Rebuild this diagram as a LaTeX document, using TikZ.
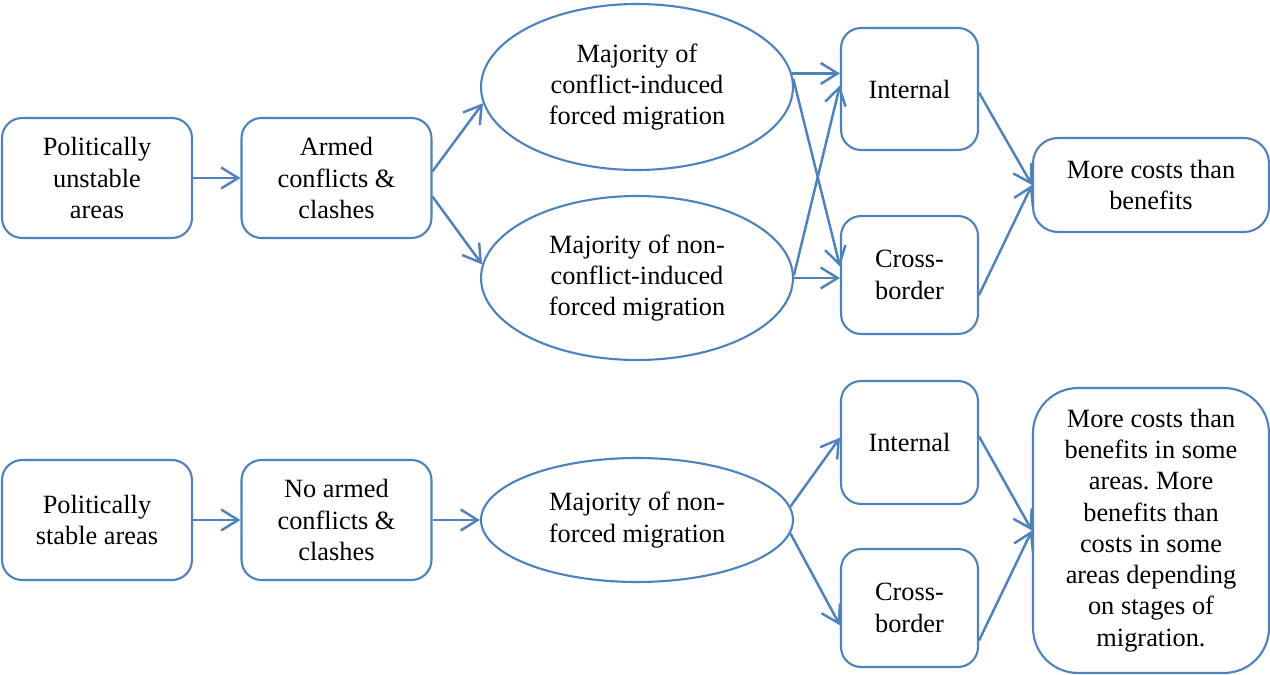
\documentclass[tikz,border=0pt]{standalone}
\usepackage{fontspec}
\setmainfont{Liberation Serif}
\usetikzlibrary{arrows.meta,shapes.geometric}
\definecolor{lineblue}{RGB}{79,129,189}
\frenchspacing
\begin{document}
\begin{tikzpicture}[x=0.02cm,y=-0.02cm,
  every node/.style={font=\fontsize{15}{17.8}\selectfont, align=center, inner sep=0pt},
  box/.style={draw=lineblue, line width=1.2pt, rounded corners=0.4cm},
  oval/.style={draw=lineblue, line width=1.2pt, ellipse, minimum width=6.24cm},
  conn/.style={draw=lineblue, line width=1.4pt, -{Straight Barb[length=0.34cm,width=0.42cm]}}
]
\useasboundingbox (0,0) rectangle (1270,675);
% top row
\node[box, minimum width=3.8cm, minimum height=2.4cm] (a1) at (97,178) {Politically\\unstable\\areas};
\node[box, minimum width=3.8cm, minimum height=2.4cm] (a2) at (336.5,178) {Armed\\conflicts \&\\clashes};
\node[oval, minimum height=3.32cm] (e1) at (637,87) {Majority of\\conflict-induced\\forced migration};
\node[oval, minimum height=3.28cm] (e2) at (637,278) {Majority of non-\\conflict-induced\\forced migration};
\node[box, minimum width=2.74cm, minimum height=2.44cm] (i1) at (909.5,89) {Internal};
\node[box, minimum width=2.74cm, minimum height=2.36cm] (c1) at (909.5,275) {Cross-\\border};
\node[box, rounded corners=0.5cm, minimum width=4.72cm, minimum height=1.88cm] (r1) at (1151,185) {More costs than\\benefits};
% bottom row
\node[box, minimum width=3.8cm, minimum height=2.4cm] (b1) at (97,520) {Politically\\stable areas};
\node[box, minimum width=3.8cm, minimum height=2.4cm] (b2) at (336.5,520) {No armed\\conflicts \&\\clashes};
\node[oval, minimum height=2.48cm] (e3) at (637,520) {Majority of non-\\forced migration};
\node[box, minimum width=2.74cm, minimum height=2.46cm] (i2) at (909.5,442.5) {Internal};
\node[box, minimum width=2.74cm, minimum height=2.36cm] (c2) at (909.5,608) {Cross-\\border};
\node[box, rounded corners=0.9cm, minimum width=4.72cm, minimum height=5.7cm] (r2) at (1151,530.5) {More costs than\\benefits in some\\areas. More\\benefits than\\costs in some\\areas depending\\on stages of\\migration.};
% connectors top
\draw[conn] (a1.east) -- (a2.west);
\draw[conn] (a2.4) -- (e1.186);
\draw[conn] (a2.-11) -- (e2.175);
\draw[conn] (e1.5) -- (e1.5 -| i1.west);
\draw[conn] (e1.3) -- (c1.173);
\draw[conn] (e2.1) -- (i1.177);
\draw[conn] (e2.east) -- (e2.east -| c1.west);
\draw[conn] (i1.-3) -- (r1.west);
\draw[conn] (c1.-16) -- (r1.west);
% connectors bottom
\draw[conn] (b1.east) -- (b2.west);
\draw[conn] (b2.east) -- (e3.west);
\draw[conn] (e3.5) -- (i2.176);
\draw[conn] (e3.-5) -- (c2.194);
\draw[conn] (i2.5) -- (r2.west);
\draw[conn] (c2.-25) -- (r2.west);
\end{tikzpicture}
\end{document}
